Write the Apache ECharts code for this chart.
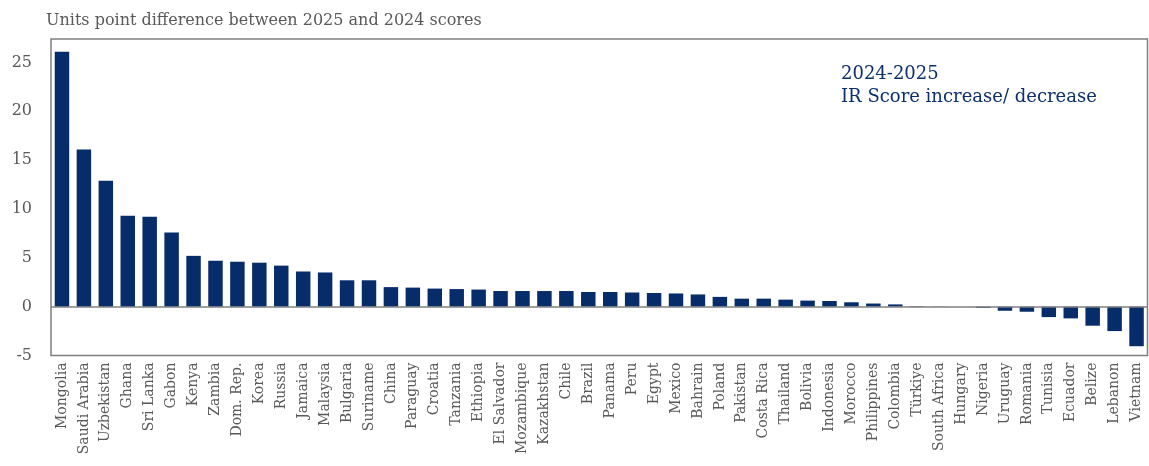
<!DOCTYPE html>
<html><head><meta charset="utf-8">
<script src="https://cdn.jsdelivr.net/npm/echarts@6/dist/echarts.min.js"></script>
<style>html,body{margin:0;padding:0;background:#fff;}#c{width:1149px;height:466px;}</style>
</head><body><div id="c"></div>
<script>
const countries = ["Mongolia","Saudi Arabia","Uzbekistan","Ghana","Sri Lanka","Gabon","Kenya","Zambia","Dom. Rep.","Korea","Russia","Jamaica","Malaysia","Bulgaria","Suriname","China","Paraguay","Croatia","Tanzania","Ethiopia","El Salvador","Mozambique","Kazakhstan","Chile","Brazil","Panama","Peru","Egypt","Mexico","Bahrain","Poland","Pakistan","Costa Rica","Thailand","Bolivia","Indonesia","Morocco","Philippines","Colombia","Türkiye","South Africa","Hungary","Nigeria","Uruguay","Romania","Tunisia","Ecuador","Belize","Lebanon","Vietnam"];
const scoreChange = [26.1,16.1,12.9,9.3,9.2,7.6,5.2,4.7,4.6,4.5,4.2,3.6,3.5,2.7,2.7,2.0,1.95,1.85,1.8,1.75,1.6,1.6,1.6,1.6,1.5,1.5,1.45,1.4,1.35,1.25,1.0,0.82,0.82,0.72,0.62,0.58,0.45,0.32,0.23,0.05,0.02,0,-0.12,-0.42,-0.52,-1.07,-1.2,-1.95,-2.5,-4.05];
const yTicks = [-5,0,5,10,15,20,25];
const titleText = "Units point difference between 2025 and 2024 scores";
const annotation = ["2024-2025","IR Score increase/ decrease"];

const FONT = "DejaVu Serif";
const chart = echarts.init(document.getElementById('c'), null, {renderer:'canvas'});
chart.setOption({
  animation:false,
  backgroundColor:'#fff',
  textStyle:{fontFamily:FONT},
  title:[{
    text:titleText, left:41, top:8,
    textStyle:{fontFamily:FONT,fontSize:16,fontWeight:'normal',color:'#595959'}
  },{
    text:annotation.join('\n'), left:836, top:58,
    textStyle:{fontFamily:FONT,fontSize:18,fontWeight:'normal',color:'#0c2f6e',lineHeight:23}
  }],
  grid:{left:51,right:1.5,top:39,bottom:110.5,show:true,borderColor:'#7f7f7f',borderWidth:1.5,backgroundColor:'transparent'},
  xAxis:{
    type:'category', data:countries,
    axisLine:{show:false,onZero:false}, axisTick:{show:false},
    axisLabel:{rotate:90, interval:0, margin:7, color:'#595959', fontFamily:FONT, fontSize:14}
  },
  yAxis:{
    type:'value', min:-5, max:27.4, interval:5,
    axisLine:{show:false}, axisTick:{show:false}, splitLine:{show:false},
    axisLabel:{margin:19, color:'#595959', fontFamily:FONT, fontSize:16,
      showMaxLabel:false,
      formatter:function(v){return yTicks.indexOf(v)>=0 ? String(v) : '';}}
  },
  series:[{
    type:'bar', data:scoreChange, barCategoryGap:'34%',
    itemStyle:{color:'#062c6a'},
    markLine:{silent:true, symbol:['none','none'], label:{show:false},
      lineStyle:{color:'#7f7f7f',width:1.5,type:'solid'}, data:[{yAxis:0}]}
  }]
});
</script></body></html>
